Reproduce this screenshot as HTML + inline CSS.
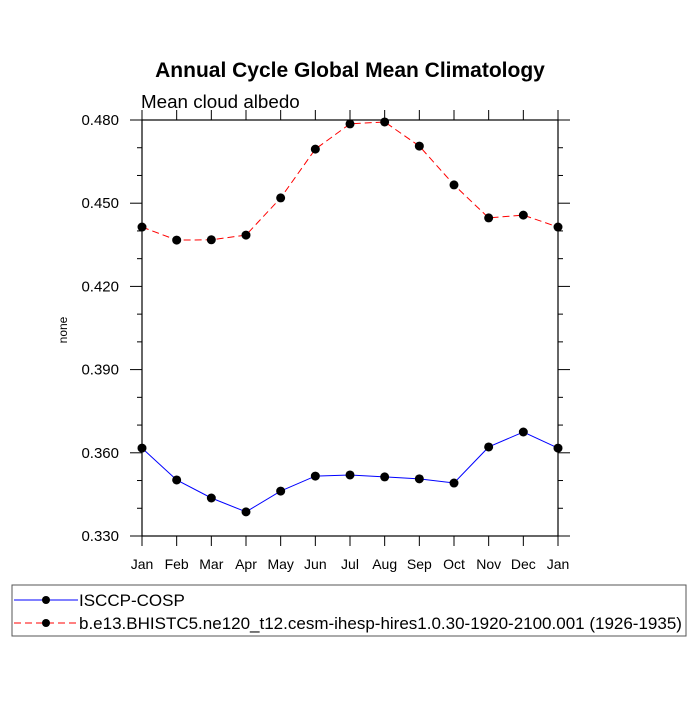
<!DOCTYPE html>
<html><head><meta charset="utf-8"><style>
body{margin:0;background:#fff;}
svg text{font-family:"Liberation Sans",sans-serif;}
</style></head><body>
<svg id="chart" width="700" height="700">
<text x="350" y="77" text-anchor="middle" font-size="21" font-weight="bold">Annual Cycle Global Mean Climatology</text>
<text x="141" y="108" font-size="18.8">Mean cloud albedo</text>
<text transform="translate(67,330) rotate(-90)" text-anchor="middle" font-size="12">none</text>
<g id="axes"></g>
<g id="series"></g>
<rect x="12" y="585" width="674" height="51" fill="none" stroke="#555" stroke-width="1"/>
<g>
<line x1="14" y1="600" x2="78" y2="600" stroke="blue" stroke-width="1"/>
<circle cx="46" cy="600" r="4" fill="#000"/>
<text x="79" y="606" font-size="17">ISCCP-COSP</text></g>
<g>
<line x1="14" y1="623" x2="78" y2="623" stroke="red" stroke-width="1" stroke-dasharray="7,4"/>
<circle cx="46" cy="623" r="4" fill="#000"/>
<text x="79" y="629" font-size="17">b.e13.BHISTC5.ne120_t12.cesm-ihesp-hires1.0.30-1920-2100.001 (1926-1935)</text></g>
</svg>
<script>
const months=["Jan","Feb","Mar","Apr","May","Jun","Jul","Aug","Sep","Oct","Nov","Dec","Jan"];
const isccp=[0.3617,0.3502,0.3437,0.3387,0.3462,0.3516,0.3520,0.3513,0.3506,0.3491,0.3621,0.3675,0.3617];
const model=[0.4414,0.4367,0.4368,0.4385,0.4519,0.4695,0.4786,0.4793,0.4706,0.4566,0.4447,0.4457,0.4414];
const yTicks=[0.330,0.360,0.390,0.420,0.450,0.480];
const NS="http://www.w3.org/2000/svg";
const L=142,R=558,T=120,B=536,ymin=0.33,ymax=0.48;
const xs=i=>L+(R-L)*i/(months.length-1);
const ys=v=>B-(v-ymin)/(ymax-ymin)*(B-T);
function mk(tag,attrs,parent){const e=document.createElementNS(NS,tag);for(const k in attrs)e.setAttribute(k,attrs[k]);parent.appendChild(e);return e;}
const ax=document.getElementById('axes');
const frame=mk('rect',{x:L,y:T,width:R-L,height:B-T,fill:'none',stroke:'#000','stroke-width':1.2},ax);


months.forEach((m,i)=>{
  const x=xs(i);
  mk('line',{x1:x,y1:B,x2:x,y2:B+10,stroke:'#000'},ax);
  mk('line',{x1:x,y1:T,x2:x,y2:T-10,stroke:'#000'},ax);
  const t=mk('text',{x:x,y:B+33,'text-anchor':'middle','font-size':14},ax);
  t.textContent=m;
  
  
});
for(let v=ymin;v<=ymax+1e-9;v+=0.01){
  const y=ys(v);const major=Math.abs(Math.round(v*1000)%30)<1;
  const len=major?12:5;
  mk('line',{x1:L,y1:y,x2:L-len,y2:y,stroke:'#000'},ax);
  mk('line',{x1:R,y1:y,x2:R+len,y2:y,stroke:'#000'},ax);
}
yTicks.forEach(v=>{
  const t=mk('text',{x:L-23,y:ys(v)+5,'text-anchor':'end','font-size':15},ax);
  t.textContent=v.toFixed(3);
  
  
});
const sg=document.getElementById('series');
function draw(vals,color,dash,name){
  const g=mk('g',{},sg);
  
  
  const p=mk('polyline',{points:vals.map((v,i)=>xs(i)+','+ys(v)).join(' '),fill:'none',stroke:color,'stroke-width':1},g);
  if(dash)p.setAttribute('stroke-dasharray',dash);
  vals.forEach((v,i)=>{const c=mk('circle',{cx:xs(i),cy:ys(v),r:4.5,fill:'#000'},g);
    
    });
}
draw(isccp,'blue',null,'series-isccp-cosp');
draw(model,'red','7,4','series-model');
</script>
</body></html>
